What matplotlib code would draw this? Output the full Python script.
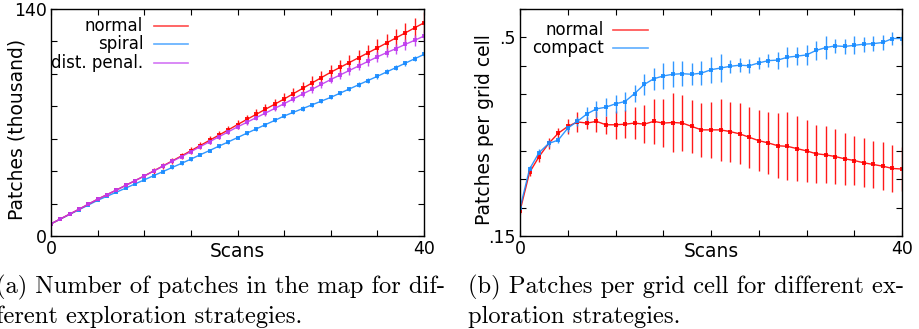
import numpy as np
import matplotlib
matplotlib.use('Agg')
import matplotlib.pyplot as plt

scans = list(range(0, 41))

# left panel: patches (thousand)
normal_a = [7.5, 10.5, 13.5, 16.5, 19.6, 22.7, 25.5, 28.3, 31.2, 34.1, 37.0, 40.1, 43.2, 46.3, 49.4,
            52.6, 55.8, 59.0, 62.2, 65.4, 68.7, 71.9, 75.0, 78.2, 81.3, 84.5, 87.8, 91.1, 94.4, 97.7,
            101.0, 104.0, 107.0, 110.0, 113.0, 116.0, 119.1, 122.2, 125.3, 128.4, 131.5]
normal_a_err = [0.3, 0.4, 0.5, 0.6, 0.7, 0.8, 1.0, 1.1, 1.2, 1.3, 1.5, 1.6, 1.7, 1.8, 2.0,
                2.1, 2.2, 2.4, 2.5, 2.7, 2.9, 3.0, 3.1, 3.3, 3.4, 3.6, 3.7, 3.9, 4.0, 4.2,
                4.4, 4.5, 4.7, 4.9, 5.0, 5.2, 5.4, 5.6, 5.8, 6.1, 6.4]
spiral = [7.5, 10.4, 13.3, 16.2, 19.1, 22.0, 24.5, 27.0, 29.5, 32.1, 34.6, 37.2, 39.7, 42.3, 44.8,
          47.4, 50.1, 52.7, 55.4, 58.0, 60.7, 63.4, 66.0, 68.7, 71.3, 74.0, 76.3, 78.6, 80.9, 83.2,
          85.5, 88.1, 90.7, 93.3, 95.9, 98.5, 101.2, 103.9, 106.6, 109.3, 112.0]
spiral_err = [0.3, 0.4, 0.4, 0.5, 0.5, 0.6, 0.6, 0.7, 0.7, 0.8, 0.8, 0.8, 0.9, 0.9, 0.9,
              1.0, 1.0, 1.0, 1.0, 1.1, 1.1, 1.1, 1.1, 1.2, 1.2, 1.2, 1.2, 1.3, 1.3, 1.3,
              1.3, 1.4, 1.4, 1.4, 1.4, 1.5, 1.5, 1.5, 1.5, 1.6, 1.6]
dist_penal = [7.5, 10.5, 13.5, 16.5, 19.6, 22.7, 25.5, 28.3, 31.2, 34.1, 37.0, 40.0, 43.0, 46.0, 49.0,
              52.0, 55.1, 58.1, 61.2, 64.2, 67.3, 70.1, 73.0, 75.8, 78.7, 81.6, 84.6, 87.6, 90.5, 93.5,
              96.5, 99.3, 102.1, 104.9, 107.7, 110.5, 113.1, 115.6, 118.2, 120.7, 123.3]
dist_penal_err = [0.2, 0.3, 0.3, 0.4, 0.4, 0.5, 0.5, 0.6, 0.6, 0.7, 0.8, 0.8, 0.9, 0.9, 1.0,
                  1.1, 1.1, 1.2, 1.3, 1.4, 1.5, 1.5, 1.6, 1.7, 1.8, 1.9, 2.0, 2.1, 2.2, 2.3,
                  2.4, 2.5, 2.6, 2.7, 2.8, 2.9, 3.0, 3.1, 3.2, 3.4, 3.5]

# right panel: patches per grid cell
normal_b = [0.194, 0.262, 0.290, 0.313, 0.331, 0.343, 0.351, 0.349, 0.352, 0.346, 0.346, 0.347, 0.349,
            0.347, 0.352, 0.349, 0.350, 0.349, 0.343, 0.337, 0.337, 0.337, 0.334, 0.330, 0.324, 0.318,
            0.314, 0.309, 0.308, 0.304, 0.300, 0.295, 0.293, 0.290, 0.286, 0.283, 0.279, 0.276, 0.273,
            0.269, 0.268]
normal_b_err = [0.006, 0.006, 0.010, 0.010, 0.009, 0.013, 0.018, 0.010, 0.018, 0.016, 0.025, 0.025, 0.028,
                0.033, 0.040, 0.043, 0.052, 0.050, 0.047, 0.047, 0.050, 0.054, 0.053, 0.054, 0.054, 0.054,
                0.055, 0.057, 0.060, 0.057, 0.054, 0.051, 0.050, 0.049, 0.046, 0.044, 0.043, 0.042, 0.042,
                0.041, 0.038]
compact = [0.199, 0.268, 0.297, 0.313, 0.319, 0.340, 0.352, 0.365, 0.374, 0.377, 0.383, 0.387, 0.401,
           0.417, 0.427, 0.432, 0.435, 0.436, 0.435, 0.437, 0.443, 0.446, 0.449, 0.451, 0.450, 0.455,
           0.459, 0.460, 0.465, 0.467, 0.469, 0.477, 0.482, 0.485, 0.484, 0.486, 0.488, 0.489, 0.491,
           0.498, 0.498]
compact_err = [0.005, 0.006, 0.006, 0.007, 0.006, 0.006, 0.008, 0.012, 0.014, 0.016, 0.016, 0.016, 0.015,
               0.018, 0.019, 0.023, 0.023, 0.022, 0.019, 0.021, 0.023, 0.024, 0.011, 0.012, 0.012, 0.010,
               0.012, 0.015, 0.018, 0.016, 0.017, 0.017, 0.020, 0.013, 0.013, 0.016, 0.013, 0.013, 0.013,
               0.012, 0.012]

RED = '#ff0000'
BLUE = '#1a8cff'
VIOLET = '#c03cf0'

plt.rcParams['font.family'] = 'DejaVu Sans'
fig = plt.figure(figsize=(9.19, 3.29), dpi=100)
ax1 = fig.add_axes([51/919, 1-236/329, 373/919, 227/329])
ax2 = fig.add_axes([520/919, 1-236/329, 382/919, 227/329])


def series(ax, y, err, color):
    ax.errorbar(scans, y, yerr=err, color=color, lw=1.0, marker='s', ms=2.2, mew=0,
                ecolor=color, elinewidth=1.0, capsize=2.0, capthick=1.0, alpha=0.9)


def style(ax):
    ax.set_xlim(0, 40)
    ax.set_xticks(range(0, 41, 5))
    ax.set_xticklabels(['0'] + [''] * 7 + ['40'])
    ax.tick_params(direction='in', length=4, width=0.8, top=True, right=True,
                   labelsize=12.5, pad=3)
    for s in ax.spines.values():
        s.set_linewidth(1.0)
    ax.text(0.5, -0.025, 'Scans', transform=ax.transAxes, ha='center', va='top', fontsize=13.4)


def legend(ax, labels, colors, xt, x0, x1, ys):
    for lab, c, yy in zip(labels, colors, ys):
        ax.text(xt, yy, lab, transform=ax.transAxes, ha='right', va='center', fontsize=12)
        ax.plot([x0, x1], [yy, yy], transform=ax.transAxes, color=c, lw=1.2, alpha=0.7)


series(ax1, spiral, spiral_err, BLUE)
series(ax1, normal_a, normal_a_err, RED)
series(ax1, dist_penal, dist_penal_err, VIOLET)
style(ax1)
ax1.set_ylim(0, 140)
ax1.set_yticks(range(0, 141, 20))
ax1.set_yticklabels(['0'] + [''] * 6 + ['140'])
ax1.set_ylabel('Patches (thousand)', fontsize=13.5)
ax1.yaxis.set_label_coords(-0.067, 0.47)
legend(ax1, ['normal', 'spiral', 'dist. penal.'], [RED, BLUE, VIOLET],
       0.247, 0.276, 0.367, [0.925, 0.844, 0.762])

series(ax2, normal_b, normal_b_err, RED)
series(ax2, compact, compact_err, BLUE)
style(ax2)
ax2.set_ylim(0.15, 0.55)
ax2.set_yticks(np.arange(0.15, 0.551, 0.05))
ax2.set_yticklabels(['.15'] + [''] * 6 + ['.5', ''])
ax2.set_ylabel('Patches per grid cell', fontsize=13.5)
ax2.yaxis.set_label_coords(-0.068, 0.47)
legend(ax2, ['normal', 'compact'], [RED, BLUE], 0.22, 0.244, 0.334, [0.907, 0.83])

cap = dict(fontsize=17.7, family='cmr10', ha='left', va='baseline')
fig.text(-4/919, 1-293/329, '(a) Number of patches in the map for dif-', **cap)
fig.text(-4/919, 1-322.5/329, 'ferent exploration strategies.', **cap)
fig.text(468/919, 1-293/329, '(b) Patches per grid cell for different ex-', **cap)
fig.text(468/919, 1-322.5/329, 'ploration strategies.', **cap)

fig.savefig('out.png', dpi=100)
